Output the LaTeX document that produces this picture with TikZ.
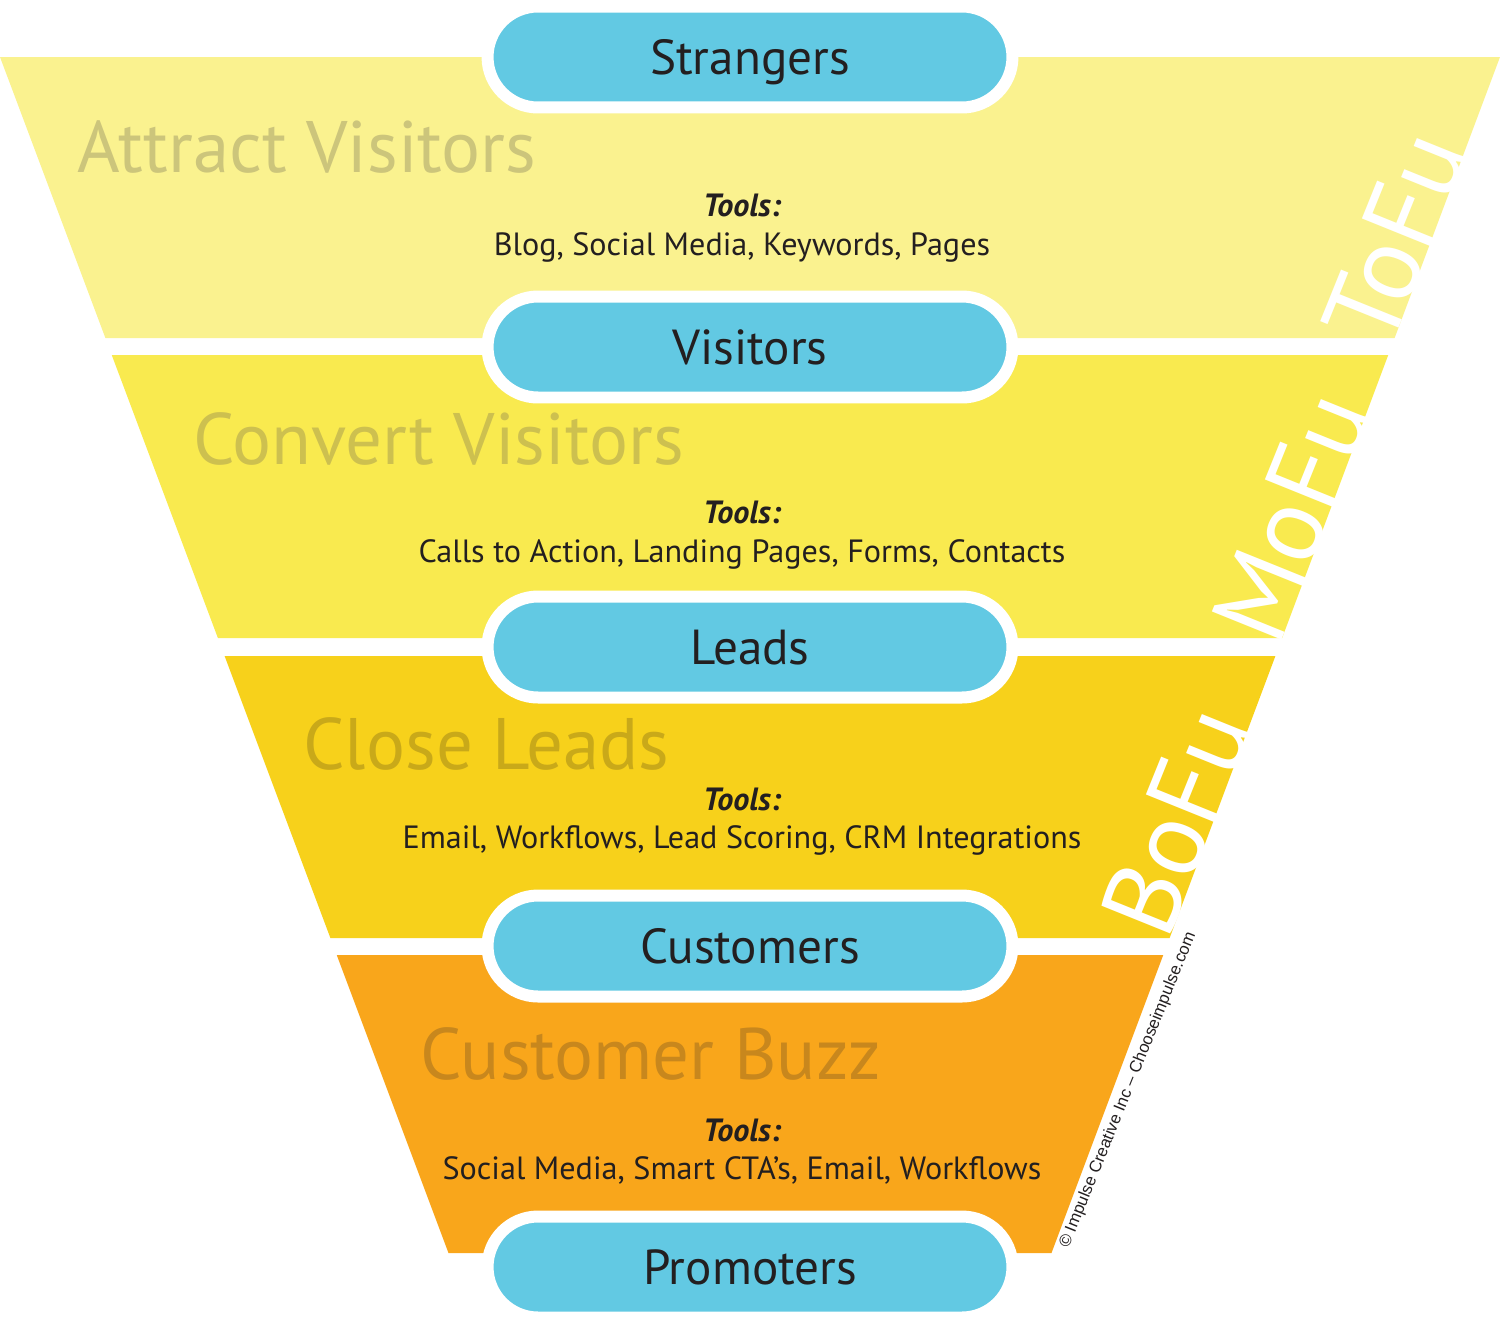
\documentclass[tikz,border=0pt]{standalone}
\usepackage{fontspec}
\setmainfont{PT Sans}
\newfontfamily\copyfont{Liberation Sans}
\usepackage{xcolor}
\usepackage{tikz}
\usetikzlibrary{positioning}
\definecolor{tofuyellow}{HTML}{FAF28F}
\definecolor{mofuyellow}{HTML}{F9EA4F}
\definecolor{bofuyellow}{HTML}{F7D11B}
\definecolor{buzzorange}{HTML}{F9A61B}
\definecolor{tofutitle}{HTML}{CCC57B}
\definecolor{mofutitle}{HTML}{CDC04F}
\definecolor{bofutitle}{HTML}{C9A919}
\definecolor{buzztitle}{HTML}{C8871D}
\definecolor{pillblue}{HTML}{62C9E3}
\definecolor{ink}{HTML}{231F20}
\tikzset{
  pill/.style={draw=white, line width=0.24cm, fill=pillblue, rounded corners=1.01cm, minimum width=10.5cm, minimum height=2.02cm, text=ink, text height=19.6pt, text depth=0pt, inner sep=0pt, font=\fontsize{28}{30}\selectfont},
  stage/.style={anchor=base west, inner sep=0pt, font=\fontsize{41.5}{45}\selectfont},
  toolhead/.style={anchor=base, inner sep=0pt, text=ink, font=\fontsize{18.3}{20}\selectfont\bfseries\itshape},
  toollist/.style={anchor=base, inner sep=0pt, text=ink, font=\fontsize{18.3}{20}\selectfont},
  fu/.style={anchor=base west, inner sep=0pt, rotate=68, text=white, font=\fontsize{61}{64}\selectfont},
}

\begin{document}
\begin{tikzpicture}[x=0.02cm, y=-0.02cm]
    \useasboundingbox (0,0) rectangle (1500,1329);
    % funnel bands
    \fill[tofuyellow] (0,57) -- (1500,57) -- (1394.6,338) -- (105.4,338) -- cycle;
    \fill[mofuyellow] (111.75,355) -- (1388.25,355) -- (1282.1,638) -- (217.9,638) -- cycle;
    \fill[bofuyellow] (224.6,656) -- (1275.4,656) -- (1169.6,938) -- (330.4,938) -- cycle;
    \fill[buzzorange] (336.75,955) -- (1163.25,955) -- (1051.5,1253) -- (448.5,1253) -- cycle;
    % funnel stages on the right edge
    \node[fu] (tofu) at (1389.4,352) {ToFu};
    \node[fu] (mofu) at (1278,649) {MoFu};
    \node[fu] (bofu) at (1167.8,943) {BoFu};
    \node[rotate=68, inner sep=0pt, text=ink, font=\copyfont\fontsize{9.5}{10}\selectfont] (credit) at (1128,1090)
      {© Impulse Creative Inc – Chooseimpulse.com};
    % people
    \node[pill] (strangers) at (750,57) {Strangers};
    \node[pill] (visitors) at (750,347) {Visitors};
    \node[pill] (leads) at (750,647) {Leads};
    \node[pill] (customers) at (750,946) {Customers};
    \node[pill] (promoters) at (750,1267) {Promoters};
    % stages and tools
    \node[stage, text=tofutitle] (attract) at (77,172) {Attract Visitors};
    \node[toolhead] (attracthead) at (742,216) {Tools:};
    \node[toollist] (attracttools) at (742,255) {Blog, Social Media, Keywords, Pages};
    \node[stage, text=mofutitle] (convert) at (193,464) {Convert Visitors};
    \node[toolhead] (converthead) at (742,523) {Tools:};
    \node[toollist] (converttools) at (742,562) {Calls to Action, Landing Pages, Forms, Contacts};
    \node[stage, text=bofutitle] (close) at (303,769) {Close Leads};
    \node[toolhead] (closehead) at (742,810) {Tools:};
    \node[toollist] (closetools) at (742,848) {Email, Workflows, Lead Scoring, CRM Integrations};
    \node[stage, text=buzztitle] (buzz) at (420,1079) {Customer Buzz};
    \node[toolhead] (buzzhead) at (742,1141) {Tools:};
    \node[toollist] (buzztools) at (742,1179) {Social Media, Smart CTA’s, Email, Workflows};
  \end{tikzpicture}
\end{document}
